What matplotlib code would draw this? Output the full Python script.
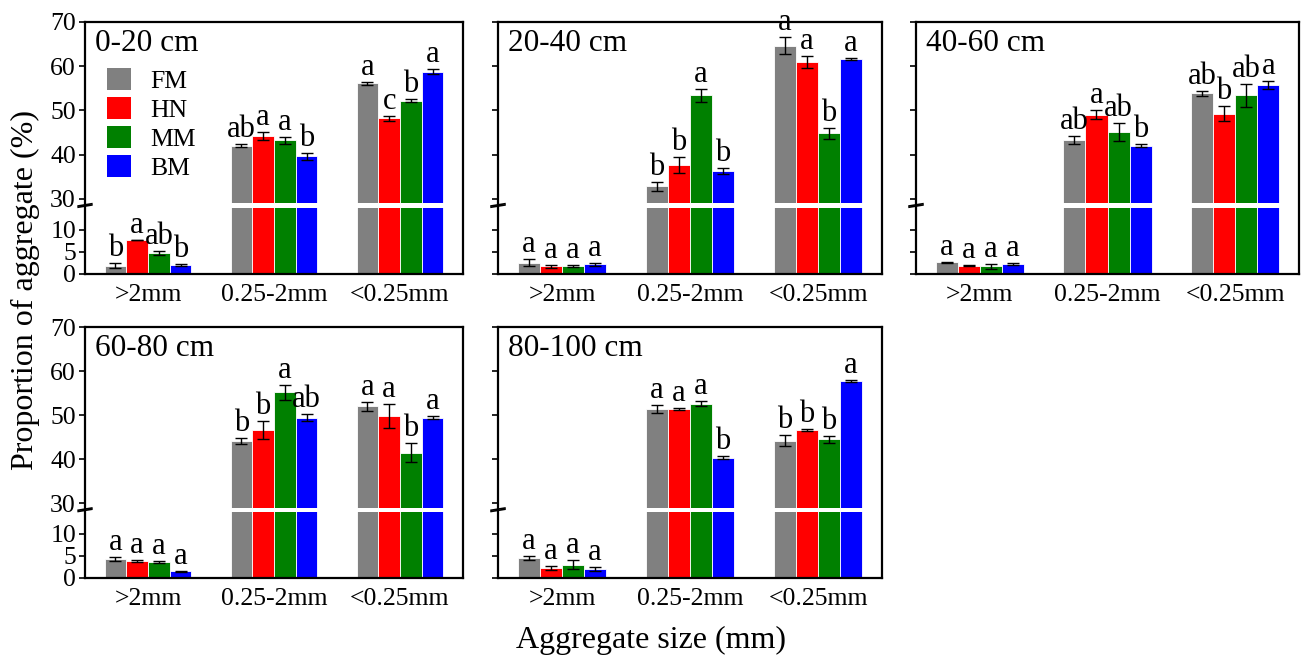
import numpy as np
import matplotlib
matplotlib.use("Agg")
import matplotlib.pyplot as plt
from matplotlib.patches import Patch

plt.rcParams["font.family"] = ["Liberation Serif", "DejaVu Serif"]

sizes = [">2mm", "0.25-2mm", "<0.25mm"]
treatments = ["FM", "HN", "MM", "BM"]
colors = ["#808080", "#ff0000", "#008000", "#0000ff"]
depths = ["0-20 cm", "20-40 cm", "40-60 cm", "60-80 cm", "80-100 cm"]

# mean values, rows = FM, HN, MM, BM ; cols = >2mm, 0.25-2mm, <0.25mm
mean_0_20 = [[1.9, 42.0, 56.1], [7.7, 44.2, 48.2], [4.7, 43.2, 52.2], [2.0, 39.6, 58.8]]
err_0_20 = [[0.6, 0.3, 0.4], [0.1, 0.9, 0.6], [0.4, 0.7, 0.4], [0.2, 0.8, 0.6]]
sig_0_20 = [["b", "ab", "a"], ["a", "a", "c"], ["ab", "a", "b"], ["b", "b", "a"]]

mean_20_40 = [[2.6, 32.8, 64.6], [1.7, 37.7, 60.9], [1.8, 53.4, 44.8], [2.2, 36.3, 61.7]]
err_20_40 = [[0.7, 1.1, 1.9], [0.4, 1.8, 1.4], [0.2, 1.5, 1.3], [0.3, 0.6, 0.2]]
sig_20_40 = [["a", "b", "a"], ["a", "b", "a"], ["a", "a", "b"], ["a", "b", "a"]]

mean_40_60 = [[2.7, 43.3, 53.9], [1.9, 49.0, 49.2], [1.7, 45.1, 53.4], [2.3, 42.0, 55.7]]
err_40_60 = [[0.1, 0.9, 0.6], [0.2, 1.0, 1.7], [0.6, 2.1, 2.6], [0.3, 0.3, 0.9]]
sig_40_60 = [["a", "ab", "ab"], ["a", "a", "b"], ["a", "ab", "ab"], ["a", "b", "a"]]

mean_60_80 = [[4.3, 44.1, 52.0], [3.9, 46.6, 49.8], [3.6, 55.2, 41.5], [1.5, 49.4, 49.4]]
err_60_80 = [[0.4, 0.7, 1.0], [0.2, 2.1, 2.7], [0.3, 1.7, 2.1], [0.2, 0.8, 0.4]]
sig_60_80 = [["a", "b", "a"], ["a", "b", "a"], ["a", "a", "b"], ["a", "ab", "a"]]

mean_80_100 = [[4.5, 51.3, 44.2], [2.3, 51.4, 46.6], [3.0, 52.6, 44.5], [2.1, 40.3, 57.7]]
err_80_100 = [[0.4, 0.9, 1.3], [0.4, 0.2, 0.3], [1.0, 0.5, 0.8], [0.5, 0.3, 0.3]]
sig_80_100 = [["a", "a", "b"], ["a", "a", "b"], ["a", "a", "b"], ["a", "b", "a"]]

all_means = [mean_0_20, mean_20_40, mean_40_60, mean_60_80, mean_80_100]
all_errs = [err_0_20, err_20_40, err_40_60, err_60_80, err_80_100]
all_sigs = [sig_0_20, sig_20_40, sig_40_60, sig_60_80, sig_80_100]

# broken axis: 0-15 and 29-70 shown, 15-29 squeezed into a small gap
def fwd(y):
    y = np.asarray(y, dtype=float)
    return np.where(y <= 15, y, np.where(y >= 29, y - 13, 15 + (y - 15) / 14.0))

def inv(d):
    d = np.asarray(d, dtype=float)
    return np.where(d <= 15, d, np.where(d >= 16, d + 13, 15 + (d - 15) * 14.0))

W, H = 1301, 657
fig = plt.figure(figsize=(W / 100, H / 100), dpi=100)

# pixel boxes (left, top, right, bottom)
boxes = [(85, 22, 463, 274), (498, 22, 882, 274), (916, 22, 1299, 274),
         (85, 327, 463, 578), (498, 327, 882, 578)]

bw = 0.1725
x = np.arange(len(sizes))

for k, depth in enumerate(depths):
    l, t, r, b = boxes[k]
    ax = fig.add_axes([l / W, 1 - b / H, (r - l) / W, (b - t) / H])
    ax.set_yscale("function", functions=(fwd, inv))
    ax.set_ylim(0, 70)
    ax.set_xlim(-0.5, 2.5)

    means = np.array(all_means[k])
    errs = np.array(all_errs[k])
    for i, tr in enumerate(treatments):
        xs = x + (i - 1.5) * bw
        ax.bar(xs, means[i], width=bw, color=colors[i], edgecolor="white",
               linewidth=0.6, zorder=1, label=tr)
        ax.errorbar(xs, means[i], yerr=errs[i], fmt="none", ecolor="black",
                    elinewidth=1.0, capsize=4.3, capthick=1.0, zorder=3)
        for j in range(len(sizes)):
            ax.annotate(all_sigs[k][i][j], (xs[j], means[i][j] + errs[i][j]),
                        xytext=(0, 0), textcoords="offset points",
                        ha="center", va="bottom", fontsize=22, zorder=4,
                        annotation_clip=False)

    # white band for the axis break
    ax.axhspan(15, 29, color="white", zorder=2, linewidth=0)

    ax.set_yticks([0, 5, 10, 30, 40, 50, 60, 70])
    ax.set_xticks(x)
    ax.set_xticklabels(sizes)
    ax.tick_params(axis="x", length=0, pad=7, labelsize=18.5)
    ax.tick_params(axis="y", direction="out", length=4.5, width=1.2, pad=2, labelsize=18.5)
    if k not in (0, 3):
        ax.set_yticklabels([])
    for sp in ax.spines.values():
        sp.set_linewidth(1.6)
        sp.set_zorder(2.5)

    # break marks on the left spine
    ytr = ax.get_yaxis_transform()
    for yy in (20.0, 24.0):
        ax.plot([-0.018, 0.018], [yy - 3.5, yy + 3.5], color="black", lw=1.2,
                transform=ytr, clip_on=False, zorder=5)

    ax.text(0.026, 0.915, depth, transform=ax.transAxes, fontsize=22.5,
            ha="left", va="center")

    if k == 0:
        handles = [Patch(facecolor=c, edgecolor="none") for c in colors]
        ax.legend(handles, treatments, loc="upper left", bbox_to_anchor=(0.01, 0.89),
                  frameon=False, fontsize=18.5, handlelength=0.95, handleheight=0.95,
                  handletextpad=0.75, labelspacing=0.16, borderpad=0.2)

fig.text(25 / W, 1 - 290 / H, "Proportion of aggregate (%)", rotation=90,
         ha="center", va="center", fontsize=23)
fig.text(651 / W, 1 - 640 / H, "Aggregate size (mm)", ha="center", va="center",
         fontsize=23)

fig.savefig("out.png", dpi=100)
